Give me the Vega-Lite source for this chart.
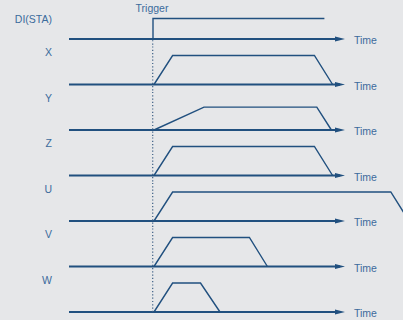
{
  "$schema": "https://vega.github.io/schema/vega-lite/v6.json",
  "background": "#e6e7e9",
  "padding": 0,
  "autosize": {"type": "pad"},
  "spacing": 0.5,
  "bounds": "flush",
  "config": {"view": {"stroke": null}, "axis": {"disable": true}, "font": "Liberation Sans"},
  "data": {
    "values": [
      {"kind": "lane", "signal": "DI(STA)"},
      {"kind": "lane", "signal": "X"},
      {"kind": "lane", "signal": "Y"},
      {"kind": "lane", "signal": "Z"},
      {"kind": "lane", "signal": "U"},
      {"kind": "lane", "signal": "V"},
      {"kind": "lane", "signal": "W"},
      {"kind": "wave", "signal": "DI(STA)", "i": 0, "t": 0, "level": 0},
      {"kind": "wave", "signal": "DI(STA)", "i": 1, "t": 0, "level": 0.707},
      {"kind": "wave", "signal": "DI(STA)", "i": 2, "t": 85.7, "level": 0.707},
      {"kind": "wave", "signal": "X", "i": 0, "t": 0.5, "level": 0},
      {"kind": "wave", "signal": "X", "i": 1, "t": 9.8, "level": 1},
      {"kind": "wave", "signal": "X", "i": 2, "t": 80.7, "level": 1},
      {"kind": "wave", "signal": "X", "i": 3, "t": 89.8, "level": 0},
      {"kind": "wave", "signal": "Y", "i": 0, "t": 0.5, "level": 0},
      {"kind": "wave", "signal": "Y", "i": 1, "t": 25.5, "level": 0.79},
      {"kind": "wave", "signal": "Y", "i": 2, "t": 81.9, "level": 0.79},
      {"kind": "wave", "signal": "Y", "i": 3, "t": 89.2, "level": 0},
      {"kind": "wave", "signal": "Z", "i": 0, "t": 0.5, "level": 0},
      {"kind": "wave", "signal": "Z", "i": 1, "t": 9.8, "level": 1},
      {"kind": "wave", "signal": "Z", "i": 2, "t": 80.7, "level": 1},
      {"kind": "wave", "signal": "Z", "i": 3, "t": 89.8, "level": 0},
      {"kind": "wave", "signal": "U", "i": 0, "t": 0.5, "level": 0},
      {"kind": "wave", "signal": "U", "i": 1, "t": 9.8, "level": 1},
      {"kind": "wave", "signal": "U", "i": 2, "t": 118.9, "level": 1},
      {"kind": "wave", "signal": "U", "i": 3, "t": 128, "level": 0},
      {"kind": "wave", "signal": "V", "i": 0, "t": 0.5, "level": 0},
      {"kind": "wave", "signal": "V", "i": 1, "t": 9.8, "level": 1},
      {"kind": "wave", "signal": "V", "i": 2, "t": 48.2, "level": 1},
      {"kind": "wave", "signal": "V", "i": 3, "t": 57.2, "level": 0},
      {"kind": "wave", "signal": "W", "i": 0, "t": 0.5, "level": 0},
      {"kind": "wave", "signal": "W", "i": 1, "t": 9.8, "level": 1},
      {"kind": "wave", "signal": "W", "i": 2, "t": 23.75, "level": 1},
      {"kind": "wave", "signal": "W", "i": 3, "t": 33.5, "level": 0}
    ]
  },
  "facet": {
    "row": {"field": "signal", "type": "nominal", "sort": ["DI(STA)", "X", "Y", "Z", "U", "V", "W"], "header": null}
  },
  "spec": {
    "width": 403,
    "height": 45,
    "layer": [
      {
        "transform": [{"filter": "datum.kind == 'lane'"}],
        "mark": {"type": "rule", "color": "#21507f", "strokeWidth": 1.8},
        "encoding": {
          "x": {"datum": -42, "type": "quantitative", "scale": {"domain": [-76.5, 125], "nice": false, "zero": false}, "axis": null},
          "x2": {"datum": 93.5},
          "y": {"datum": 0, "type": "quantitative", "scale": {"domain": [-0.2069, 1.3448], "nice": false, "zero": false}, "axis": null}
        }
      },
      {
        "transform": [{"filter": "datum.kind == 'lane' && datum.signal != 'DI(STA)' && datum.signal != 'W'"}],
        "mark": {"type": "rule", "color": "#3d5f85", "strokeWidth": 1.2, "strokeDash": [1.2, 2.1]},
        "encoding": {
          "x": {"datum": -0.15, "type": "quantitative"},
          "y": {"datum": -0.2069, "type": "quantitative"},
          "y2": {"datum": 1.3448}
        }
      },
      {
        "transform": [{"filter": "datum.kind == 'lane' && datum.signal == 'DI(STA)'"}],
        "mark": {"type": "rule", "color": "#3d5f85", "strokeWidth": 1.2, "strokeDash": [1.2, 2.1]},
        "encoding": {
          "x": {"datum": -0.15, "type": "quantitative"},
          "y": {"datum": -0.04, "type": "quantitative"},
          "y2": {"datum": -0.2069}
        }
      },
      {
        "transform": [{"filter": "datum.kind == 'lane' && datum.signal == 'W'"}],
        "mark": {"type": "rule", "color": "#3d5f85", "strokeWidth": 1.2, "strokeDash": [1.2, 2.1]},
        "encoding": {
          "x": {"datum": -0.15, "type": "quantitative"},
          "y": {"datum": 0, "type": "quantitative"},
          "y2": {"datum": 1.3448}
        }
      },
      {
        "transform": [{"filter": "datum.kind == 'wave'"}],
        "mark": {"type": "line", "color": "#21507f", "strokeWidth": 1.4, "clip": true},
        "encoding": {
          "x": {"field": "t", "type": "quantitative"},
          "y": {"field": "level", "type": "quantitative"},
          "order": {"field": "i", "type": "quantitative"}
        }
      },
      {
        "transform": [{"filter": "datum.kind == 'lane'"}],
        "mark": {"type": "point", "shape": "M-1,-0.48L1,0L-1,0.48Z", "size": 100, "filled": true, "opacity": 1, "color": "#21507f"},
        "encoding": {
          "x": {"datum": 93.5, "type": "quantitative"},
          "y": {"datum": 0, "type": "quantitative"}
        }
      },
      {
        "transform": [{"filter": "datum.kind == 'lane'"}],
        "mark": {"type": "text", "text": "Time", "align": "left", "baseline": "middle", "fontSize": 10.5, "color": "#3c6b9c"},
        "encoding": {
          "x": {"datum": 100.5, "type": "quantitative"},
          "y": {"datum": -0.07, "type": "quantitative"}
        }
      },
      {
        "transform": [{"filter": "datum.kind == 'lane' && datum.signal != 'DI(STA)'"}],
        "mark": {"type": "text", "align": "right", "baseline": "middle", "fontSize": 10.5, "color": "#3c6b9c"},
        "encoding": {
          "x": {"datum": -50.5, "type": "quantitative"},
          "y": {"datum": 1.07, "type": "quantitative"},
          "text": {"field": "signal"}
        }
      },
      {
        "transform": [{"filter": "datum.kind == 'lane' && datum.signal == 'DI(STA)'"}],
        "mark": {"type": "text", "align": "right", "baseline": "middle", "fontSize": 10.5, "color": "#3c6b9c"},
        "encoding": {
          "x": {"datum": -50.5, "type": "quantitative"},
          "y": {"datum": 0.64, "type": "quantitative"},
          "text": {"field": "signal"}
        }
      },
      {
        "transform": [{"filter": "datum.kind == 'lane' && datum.signal == 'DI(STA)'"}],
        "mark": {"type": "text", "text": "Trigger", "align": "center", "baseline": "middle", "fontSize": 10.5, "color": "#3c6b9c"},
        "encoding": {
          "x": {"datum": -0.5, "type": "quantitative"},
          "y": {"datum": 1.034, "type": "quantitative"}
        }
      }
    ]
  }
}
